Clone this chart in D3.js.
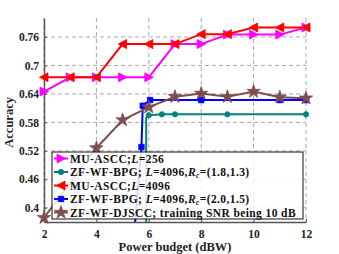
<!DOCTYPE html>
<meta charset="utf-8">
<title>Accuracy vs power budget</title>
<script src="https://cdn.jsdelivr.net/npm/d3@7"></script>
<style>
body { margin:0; background:#fff; }
svg { display:block; font-family:"Liberation Serif","Times New Roman",serif; font-weight:bold; }
.grid line { stroke:#a8a8a8; stroke-dasharray:4,3; stroke-width:1; }
.axis path, .axis line { stroke:#555; }
.axis text { font-size:11.5px; font-weight:bold; fill:#222; font-family:"Liberation Serif",serif; }
</style>
<body>
<svg width="339" height="254"></svg>
<script>
// data
var xTicks = [2, 4, 6, 8, 10, 12];
var yTicks = [0.4, 0.46, 0.52, 0.58, 0.64, 0.7, 0.76];

var ascc256X = [2, 3, 4, 5, 6, 7, 8, 9, 10, 11, 12];
var ascc256Y = [0.645, 0.675, 0.675, 0.675, 0.675, 0.745, 0.745, 0.765, 0.765, 0.765, 0.78];

var bpg18X = [5.9, 5.9, 6, 6.5, 7, 9, 12];
var bpg18Y = [0.30, 0.59, 0.595, 0.597, 0.597, 0.597, 0.597];

var ascc4096X = [2, 3, 4, 5, 6, 7, 8, 9, 10, 11, 12];
var ascc4096Y = [0.675, 0.675, 0.675, 0.745, 0.745, 0.745, 0.766, 0.766, 0.78, 0.78, 0.78];

var bpg20X = [5.45, 5.72, 5.77, 6.05, 8, 11, 12];
var bpg20Y = [0.35, 0.528, 0.615, 0.627, 0.627, 0.627, 0.627];

var djsccX = [2, 4, 5, 6, 7, 8, 9, 10, 11, 12];
var djsccY = [0.379, 0.526, 0.585, 0.612, 0.634, 0.641, 0.634, 0.645, 0.633, 0.631];

var series = [
  {xs: ascc256X, ys: ascc256Y, color: "#ff00ff", sym: "triR", label: [["MU-ASCC;"], ["L", "i"], ["=256"]]},
  {xs: bpg18X, ys: bpg18Y, color: "#008080", sym: "circle", label: [["ZF-WF-BPG; "], ["L", "i"], ["=4096,"], ["R", "i"], ["c", "sub"], ["=(1.8,1.3)", "up"]]},
  {xs: ascc4096X, ys: ascc4096Y, color: "#ff0000", sym: "triL", label: [["MU-ASCC;"], ["L", "i"], ["=4096"]]},
  {xs: bpg20X, ys: bpg20Y, color: "#0000ff", sym: "square", label: [["ZF-WF-BPG; "], ["L", "i"], ["=4096,"], ["R", "i"], ["c", "sub"], ["=(2.0,1.5)", "up"]]},
  {xs: djsccX, ys: djsccY, color: "#7e4e4e", sym: "star", label: [["ZF-WF-DJSCC; training SNR being 10 dB"]]}
];

var svg = d3.select("svg"),
    margin = {top: 18, right: 33, bottom: 32, left: 44},
    width = +svg.attr("width") - margin.left - margin.right,
    height = +svg.attr("height") - margin.top - margin.bottom;

var x = d3.scaleLinear().domain([2, 12]).range([0, width]),
    y = d3.scaleLinear().domain([0.37, 0.8]).range([height, 0]);

var g = svg.append("g")
    .attr("transform", "translate(" + margin.left + "," + margin.top + ")");

svg.append("clipPath").attr("id", "clip")
  .append("rect").attr("x", 0).attr("y", 0).attr("width", width).attr("height", height);

// grid
g.append("g").attr("class", "grid")
  .selectAll("line").data(xTicks).enter().append("line")
    .attr("x1", x).attr("x2", x).attr("y1", 0).attr("y2", height);
g.append("g").attr("class", "grid")
  .selectAll("line").data(yTicks).enter().append("line")
    .attr("x1", 0).attr("x2", width).attr("y1", y).attr("y2", y);

// axes (ticks point inward)
g.append("g")
    .attr("class", "axis")
    .attr("transform", "translate(0," + height + ")")
    .call(d3.axisBottom(x).tickValues(xTicks).tickSizeInner(-3).tickSizeOuter(0).tickPadding(8))
    .call(function(a) { a.select(".domain").attr("stroke-width", 1.5); });

g.append("g")
    .attr("class", "axis")
    .call(d3.axisLeft(y).tickValues(yTicks).tickSizeInner(-3).tickSizeOuter(0).tickPadding(5)
      .tickFormat(function(d) { return String(+d.toFixed(2)); }))
    .call(function(a) { a.select(".domain").attr("stroke-width", 1.5); });

svg.append("text")
    .attr("x", margin.left + width / 2)
    .attr("y", 251)
    .attr("text-anchor", "middle")
    .style("font-size", "12.5px")
    .attr("fill", "#222")
    .text("Power budget (dBW)");

svg.append("text")
    .attr("transform", "translate(13," + (margin.top + y(0.58)) + ") rotate(-90)")
    .attr("text-anchor", "middle")
    .style("font-size", "12.5px")
    .attr("fill", "#222")
    .text("Accuracy");

function symPath(sym) {
  if (sym === "triR") return "M-4,-4.5L4.5,0L-4,4.5Z";
  if (sym === "triL") return "M4,-4.5L-4.5,0L4,4.5Z";
  if (sym === "circle") return d3.symbol(d3.symbolCircle, 22)();
  if (sym === "square") return d3.symbol(d3.symbolSquare, 30)();
  return d3.symbol(d3.symbolStar, 55)();
}

var line = d3.line()
    .x(function(d) { return x(d[0]); })
    .y(function(d) { return y(d[1]); });

series.forEach(function(s) {
  var pts = s.xs.map(function(v, i) { return [v, s.ys[i]]; });
  g.append("path")
      .datum(pts)
      .attr("clip-path", "url(#clip)")
      .attr("fill", "none")
      .attr("stroke", s.color)
      .attr("stroke-width", 2)
      .attr("d", line);
  g.append("g").selectAll("path")
    .data(pts.filter(function(p, i) { return p[1] > 0.37 && !(s.sym === "circle" && i === 1); }))
    .enter().append("path")
      .attr("transform", function(d) { return "translate(" + x(d[0]) + "," + y(d[1]) + ")"; })
      .attr("d", symPath(s.sym))
      .attr("fill", s.color)
      .attr("stroke", s.color)
      .attr("stroke-width", 0.8);
});

// legend
var lg = svg.append("g").attr("transform", "translate(52,152)");
lg.append("rect")
    .attr("width", 251).attr("height", 67)
    .attr("fill", "#fff").attr("fill-opacity", 0.85)
    .attr("stroke", "#111").attr("stroke-width", 1);

series.forEach(function(s, i) {
  var row = lg.append("g").attr("transform", "translate(0," + (6.5 + i * 13.5) + ")");
  row.append("line").attr("x1", 2).attr("x2", 16).attr("y1", 0).attr("y2", 0)
      .attr("stroke", s.color).attr("stroke-width", 2);
  row.append("path").attr("transform", "translate(9,0)")
      .attr("d", symPath(s.sym)).attr("fill", s.color).attr("stroke", s.color).attr("stroke-width", 0.8);
  var t = row.append("text").attr("x", 18).attr("y", 4)
      .style("font-size", "11.5px").style("letter-spacing", "0.4px").attr("fill", "#111");
  s.label.forEach(function(p) {
    var ts = t.append("tspan").text(p[0]);
    if (p[1] === "i") ts.style("font-style", "italic");
    if (p[1] === "sub") ts.style("font-style", "italic").style("font-size", "7.5px").attr("dy", 1.5);
    if (p[1] === "up") ts.attr("dy", -1.5);
  });
});
</script>
</body>
